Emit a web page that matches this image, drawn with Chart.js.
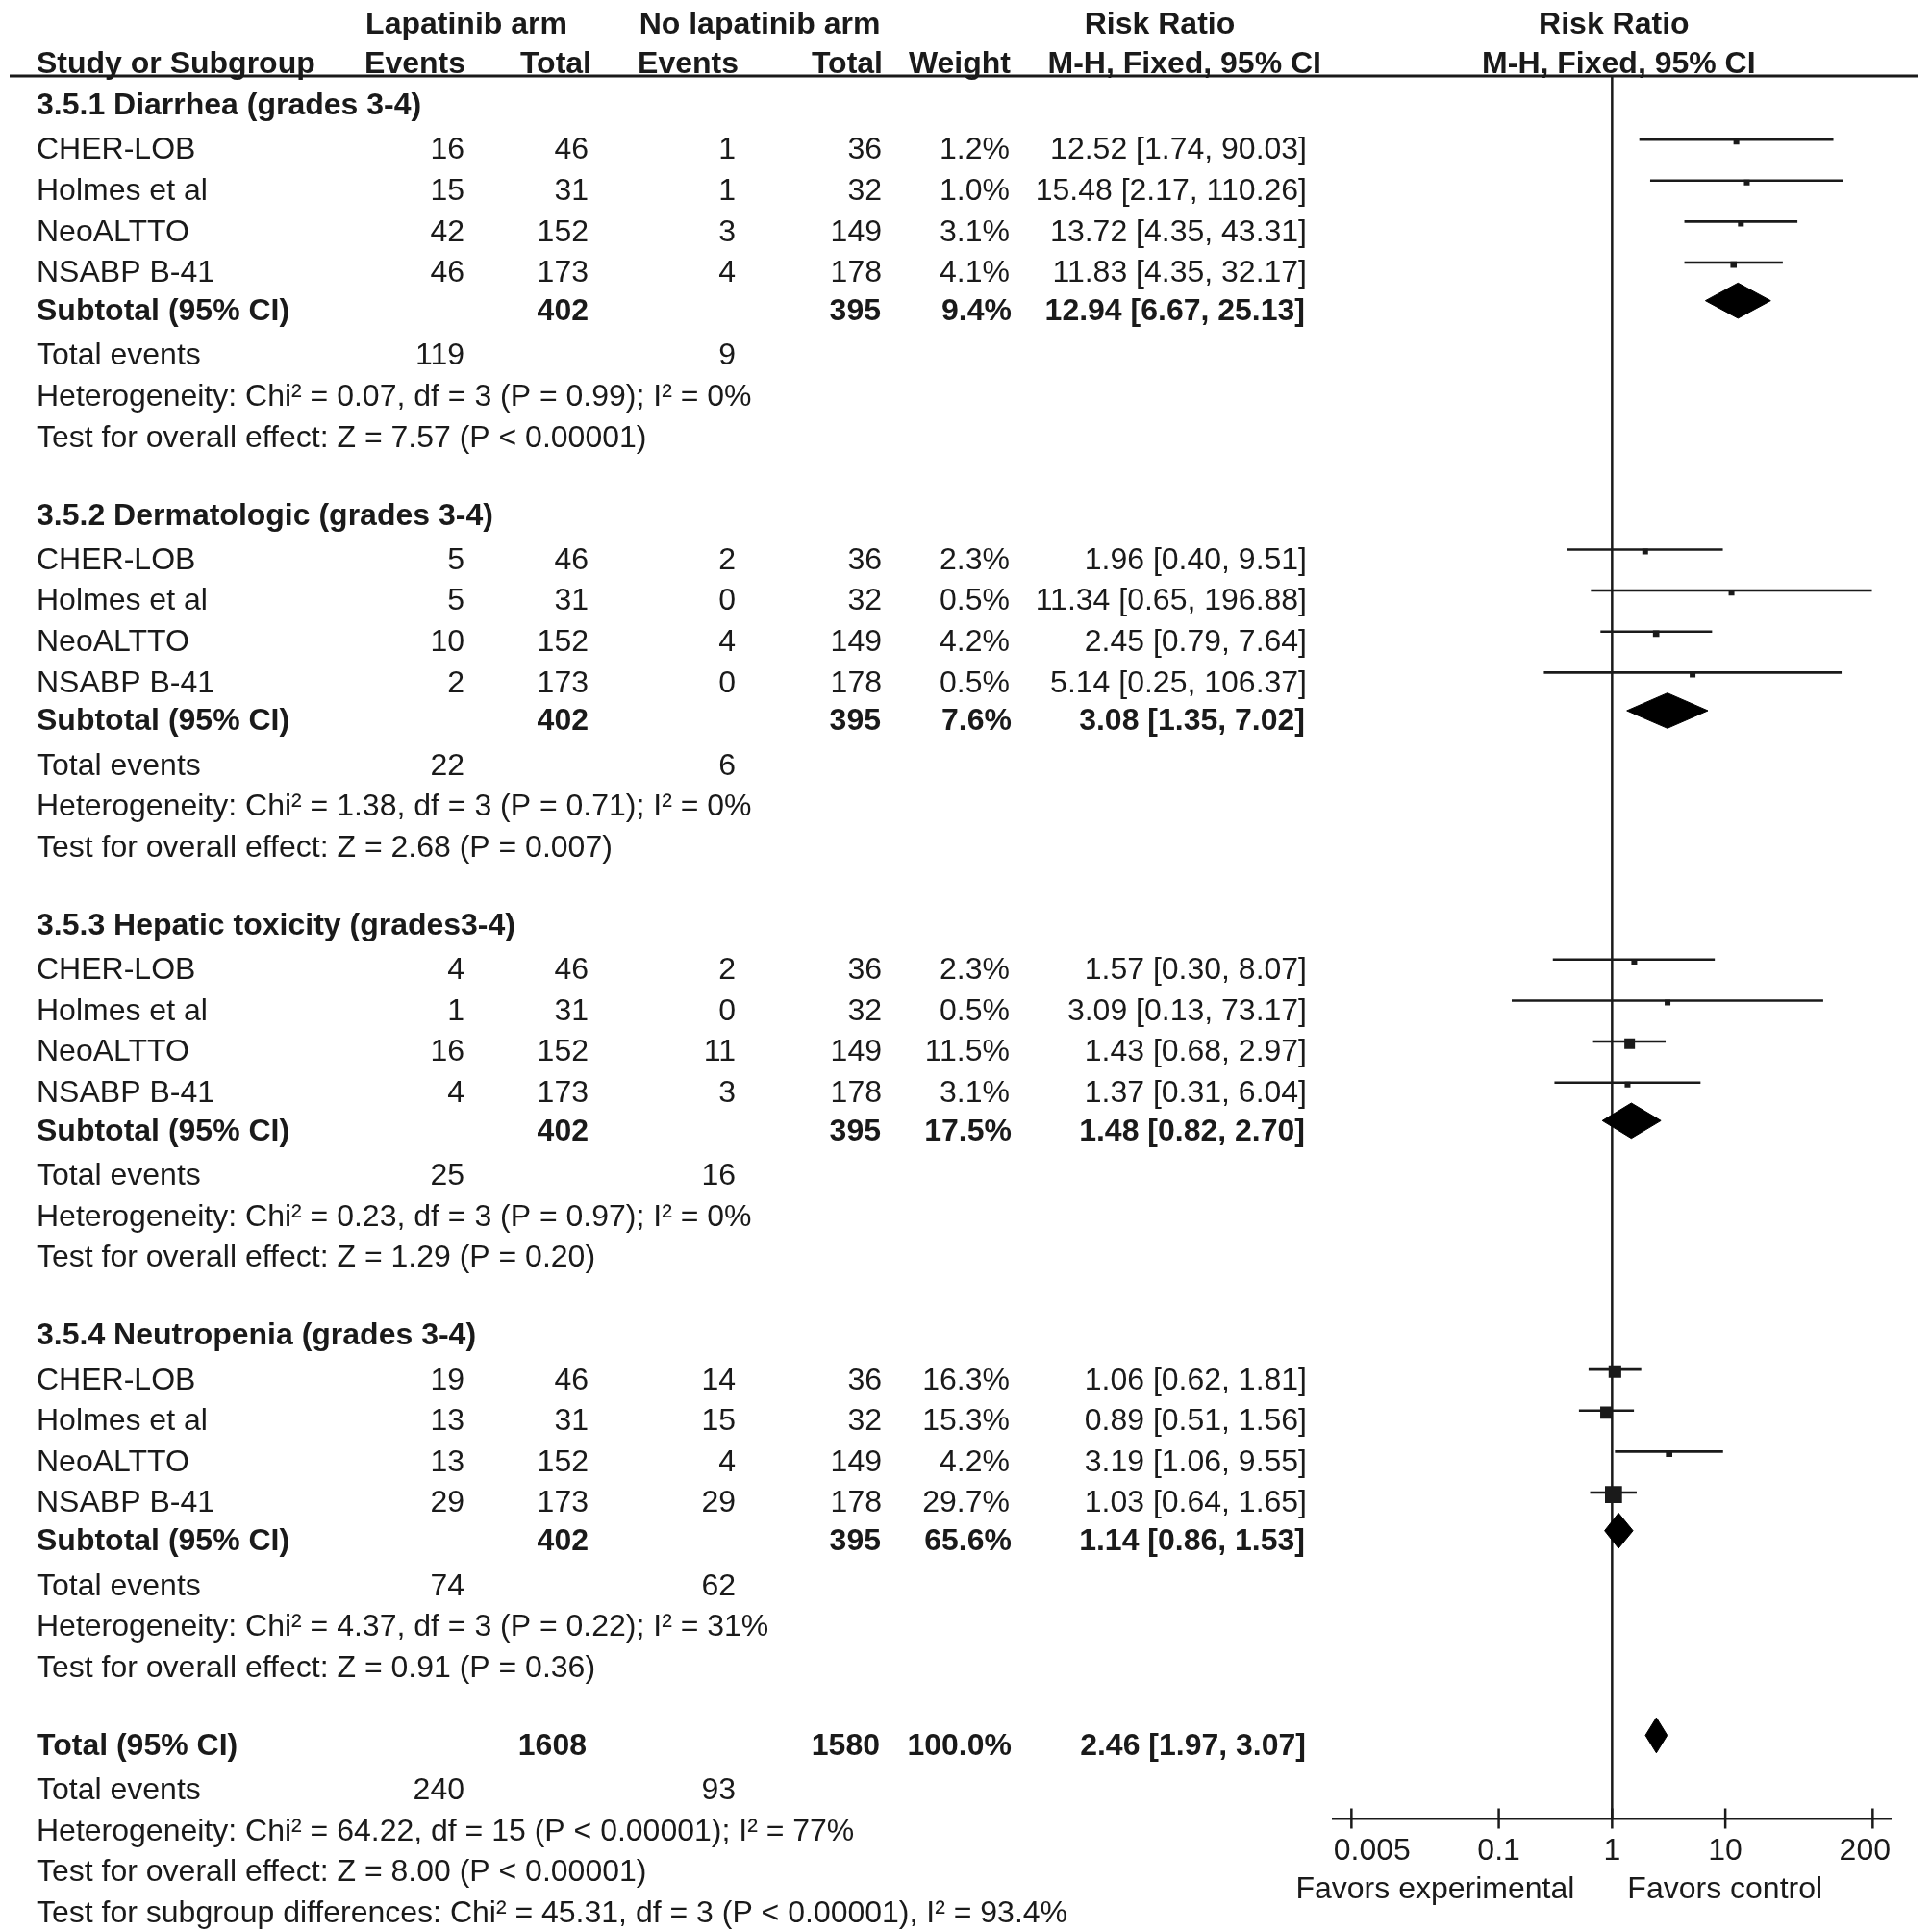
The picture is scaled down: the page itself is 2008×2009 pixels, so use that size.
<!DOCTYPE html>
<html>
<head>
<meta charset="utf-8">
<script src="https://cdn.jsdelivr.net/npm/chart.js@4.4.1/dist/chart.umd.min.js"></script>
<style>
  html, body { margin: 0; padding: 0; background: #ffffff; }
  #wrap { width: 2008px; height: 2009px; position: relative; }
</style>
</head>
<body>
<div id="wrap"><canvas id="c"></canvas></div>
<script>
// ---------------- DATA ----------------
const groups = [
  '3.5.1 Diarrhea (grades 3-4)',
  '3.5.2 Dermatologic (grades 3-4)',
  '3.5.3 Hepatic toxicity (grades3-4)',
  '3.5.4 Neutropenia (grades 3-4)'
];
const studies = ['CHER-LOB', 'Holmes et al', 'NeoALTTO', 'NSABP B-41'];
const expTotals = [46, 31, 152, 173];
const ctrlTotals = [36, 32, 149, 178];
const expEvents = [[16, 15, 42, 46], [5, 5, 10, 2], [4, 1, 16, 4], [19, 13, 13, 29]];
const ctrlEvents = [[1, 1, 3, 4], [2, 0, 4, 0], [2, 0, 11, 3], [14, 15, 4, 29]];
const weights = [[1.2, 1.0, 3.1, 4.1], [2.3, 0.5, 4.2, 0.5], [2.3, 0.5, 11.5, 3.1], [16.3, 15.3, 4.2, 29.7]];
const rrEst = [[12.52, 15.48, 13.72, 11.83], [1.96, 11.34, 2.45, 5.14], [1.57, 3.09, 1.43, 1.37], [1.06, 0.89, 3.19, 1.03]];
const rrLow = [[1.74, 2.17, 4.35, 4.35], [0.40, 0.65, 0.79, 0.25], [0.30, 0.13, 0.68, 0.31], [0.62, 0.51, 1.06, 0.64]];
const rrHigh = [[90.03, 110.26, 43.31, 32.17], [9.51, 196.88, 7.64, 106.37], [8.07, 73.17, 2.97, 6.04], [1.81, 1.56, 9.55, 1.65]];

const subExpTotal = [402, 402, 402, 402];
const subCtrlTotal = [395, 395, 395, 395];
const subWeight = [9.4, 7.6, 17.5, 65.6];
const subEst = [12.94, 3.08, 1.48, 1.14];
const subLow = [6.67, 1.35, 0.82, 0.86];
const subHigh = [25.13, 7.02, 2.70, 1.53];
const subExpEvents = [119, 22, 25, 74];
const subCtrlEvents = [9, 6, 16, 62];
const subHet = [
  'Heterogeneity: Chi\u00b2 = 0.07, df = 3 (P = 0.99); I\u00b2 = 0%',
  'Heterogeneity: Chi\u00b2 = 1.38, df = 3 (P = 0.71); I\u00b2 = 0%',
  'Heterogeneity: Chi\u00b2 = 0.23, df = 3 (P = 0.97); I\u00b2 = 0%',
  'Heterogeneity: Chi\u00b2 = 4.37, df = 3 (P = 0.22); I\u00b2 = 31%'
];
const subTest = [
  'Test for overall effect: Z = 7.57 (P < 0.00001)',
  'Test for overall effect: Z = 2.68 (P = 0.007)',
  'Test for overall effect: Z = 1.29 (P = 0.20)',
  'Test for overall effect: Z = 0.91 (P = 0.36)'
];

const totalExp = 1608;
const totalCtrl = 1580;
const totalWeight = 100.0;
const totalEst = 2.46;
const totalLow = 1.97;
const totalHigh = 3.07;
const totalExpEvents = 240;
const totalCtrlEvents = 93;
const totalHet = 'Heterogeneity: Chi\u00b2 = 64.22, df = 15 (P < 0.00001); I\u00b2 = 77%';
const totalTest = 'Test for overall effect: Z = 8.00 (P < 0.00001)';
const subgroupDiff = 'Test for subgroup differences: Chi\u00b2 = 45.31, df = 3 (P < 0.00001), I\u00b2 = 93.4%';

const tickValues = [0.005, 0.1, 1, 10, 200];
const tickLabels = ['0.005', '0.1', '1', '10', '200'];
const favorsLeft = 'Favors experimental';
const favorsRight = 'Favors control';

// ---------------- LAYOUT (rows in row units) ----------------
const INK = '#1a1a1a';
const FAMILY = '"Liberation Sans", Arial, Helvetica, sans-serif';
const FONT = '32px ' + FAMILY;
const Y_MAX = 42.5;
const MARK_OFF = -0.22;   // markers sit slightly above text middle
const TXT_BASE = 11;      // px from row middle to baseline

const rows = [];
let yy = 0.69;
groups.forEach((g, gi) => {
  rows.push({ y: yy, type: 'group', gi }); yy += 1.08;
  studies.forEach((s, si) => { rows.push({ y: yy, type: 'study', gi, si }); if (si < studies.length - 1) yy += 1; });
  yy += 0.93; rows.push({ y: yy, type: 'sub', gi });
  yy += 1.09; rows.push({ y: yy, type: 'events', gi });
  yy += 1.0; rows.push({ y: yy, type: 'het', gi });
  yy += 1.0; rows.push({ y: yy, type: 'test', gi });
  yy += 1.9;
});
rows.push({ y: yy, type: 'total' }); yy += 1.08;
rows.push({ y: yy, type: 'tevents' }); yy += 1.0;
rows.push({ y: yy, type: 'thet' }); yy += 1.0;
rows.push({ y: yy, type: 'ttest' }); yy += 1.0;
rows.push({ y: yy, type: 'tsub' });

// ---------------- DATASETS ----------------
const datasets = [];
// vertical line of no effect
datasets.push({
  type: 'line', data: [{ x: 1, y: 0 }, { x: 1, y: Y_MAX }],
  borderColor: INK, borderWidth: 2.5, pointRadius: 0, clip: false, order: 5
});
// study confidence intervals
const squares = [];
const squareSizes = [];
rows.filter(r => r.type === 'study').forEach(r => {
  const ym = r.y + MARK_OFF;
  datasets.push({
    type: 'line',
    data: [{ x: rrLow[r.gi][r.si], y: ym }, { x: rrHigh[r.gi][r.si], y: ym }],
    borderColor: INK, borderWidth: 2.6, pointRadius: 0, clip: false, order: 3
  });
  squares.push({ x: rrEst[r.gi][r.si], y: ym + 0.05 });
  squareSizes.push(Math.max(6, 3.25 * Math.sqrt(weights[r.gi][r.si])));
});
datasets.push({
  type: 'scatter', data: squares, pointStyle: 'rect',
  pointRadius: squareSizes.map(s => s / Math.SQRT2),
  backgroundColor: INK, borderWidth: 0, order: 2
});
// diamonds
const DH = 0.43;
function diamond(lo, est, hi, y) {
  return {
    type: 'line',
    data: [{ x: lo, y: y }, { x: est, y: y - DH }, { x: hi, y: y }, { x: est, y: y + DH }, { x: lo, y: y }],
    borderColor: '#000', borderWidth: 1, backgroundColor: '#000',
    fill: 'shape', pointRadius: 0, tension: 0, clip: false, order: 1
  };
}
rows.filter(r => r.type === 'sub').forEach(r => {
  datasets.push(diamond(subLow[r.gi], subEst[r.gi], subHigh[r.gi], r.y + MARK_OFF));
});
const totRow = rows.find(r => r.type === 'total');
datasets.push(diamond(totalLow, totalEst, totalHigh, totRow.y + MARK_OFF));
// full axis tick marks (above and below the axis line)
datasets.push({
  type: 'scatter', data: tickValues.map(v => ({ x: v, y: Y_MAX })),
  pointStyle: 'line', rotation: 90, pointRadius: 10.5, borderColor: INK, borderWidth: 2.5,
  clip: false, order: 0
});

// ---------------- TEXT PLUGIN ----------------
const COL = { label: 38, expEv: 483, expTot: 612, ctrlEv: 765, ctrlTot: 917, weight: 1050, rr: 1359 };
const fmtCI = (e, l, h) => e.toFixed(2) + ' [' + l.toFixed(2) + ', ' + h.toFixed(2) + ']';

const textPlugin = {
  id: 'forestText',
  afterDraw(chart) {
    const ctx = chart.ctx;
    const ys = chart.scales.y, xs = chart.scales.x;
    const by = v => ys.getPixelForValue(v) + TXT_BASE;
    const put = (t, x, y, align, bold) => {
      ctx.font = (bold ? 'bold ' : '') + FONT;
      ctx.textAlign = align;
      ctx.fillText(String(t), x, y);
    };
    ctx.save();
    ctx.fillStyle = INK;
    ctx.textBaseline = 'alphabetic';
    const px1 = xs.getPixelForValue(1);

    // header line
    ctx.strokeStyle = INK; ctx.lineWidth = 3;
    ctx.beginPath(); ctx.moveTo(10, ys.top); ctx.lineTo(1995, ys.top); ctx.stroke();

    // column headers
    const h1 = 35, h2 = 76;
    put('Lapatinib arm', 485, h1, 'center', true);
    put('No lapatinib arm', 790, h1, 'center', true);
    put('Risk Ratio', 1206, h1, 'center', true);
    put('Risk Ratio', px1 + 2, h1, 'center', true);
    put('Study or Subgroup', COL.label, h2, 'left', true);
    put('Events', 484, h2, 'right', true);
    put('Total', 615, h2, 'right', true);
    put('Events', 768, h2, 'right', true);
    put('Total', 918, h2, 'right', true);
    put('Weight', 1051, h2, 'right', true);
    put('M-H, Fixed, 95% CI', 1374, h2, 'right', true);
    put('M-H, Fixed, 95% CI', px1 + 7, h2, 'center', true);

    rows.forEach(r => {
      const y = by(r.y);
      switch (r.type) {
        case 'group': put(groups[r.gi], COL.label, y, 'left', true); break;
        case 'study': {
          const g = r.gi, s = r.si;
          put(studies[s], COL.label, y, 'left');
          put(expEvents[g][s], COL.expEv, y, 'right');
          put(expTotals[s], COL.expTot, y, 'right');
          put(ctrlEvents[g][s], COL.ctrlEv, y, 'right');
          put(ctrlTotals[s], COL.ctrlTot, y, 'right');
          put(weights[g][s].toFixed(1) + '%', COL.weight, y, 'right');
          put(fmtCI(rrEst[g][s], rrLow[g][s], rrHigh[g][s]), COL.rr, y, 'right');
          break;
        }
        case 'sub':
          put('Subtotal (95% CI)', COL.label, y, 'left', true);
          put(subExpTotal[r.gi], COL.expTot, y, 'right', true);
          put(subCtrlTotal[r.gi], COL.ctrlTot - 1, y, 'right', true);
          put(subWeight[r.gi].toFixed(1) + '%', COL.weight + 2, y, 'right', true);
          put(fmtCI(subEst[r.gi], subLow[r.gi], subHigh[r.gi]), COL.rr - 2, y, 'right', true);
          break;
        case 'events':
          put('Total events', COL.label, y, 'left');
          put(subExpEvents[r.gi], COL.expEv, y, 'right');
          put(subCtrlEvents[r.gi], COL.ctrlEv, y, 'right');
          break;
        case 'het': put(subHet[r.gi], COL.label, y, 'left'); break;
        case 'test': put(subTest[r.gi], COL.label, y, 'left'); break;
        case 'total':
          put('Total (95% CI)', COL.label, y, 'left', true);
          put(totalExp, COL.expTot - 2, y, 'right', true);
          put(totalCtrl, COL.ctrlTot - 2, y, 'right', true);
          put(totalWeight.toFixed(1) + '%', COL.weight + 2, y, 'right', true);
          put(fmtCI(totalEst, totalLow, totalHigh), COL.rr - 1, y, 'right', true);
          break;
        case 'tevents':
          put('Total events', COL.label, y, 'left');
          put(totalExpEvents, COL.expEv, y, 'right');
          put(totalCtrlEvents, COL.ctrlEv, y, 'right');
          break;
        case 'thet': put(totalHet, COL.label, y, 'left'); break;
        case 'ttest': put(totalTest, COL.label, y, 'left'); break;
        case 'tsub': put(subgroupDiff, COL.label, y, 'left'); break;
      }
    });

    // axis tick labels, kept inside the axis extent
    ctx.font = FONT;
    const ty = xs.top + 43;
    tickValues.forEach((v, i) => {
      const lbl = tickLabels[i];
      const w = ctx.measureText(lbl).width;
      let cx = xs.getPixelForValue(v);
      cx = Math.max(xs.left + w / 2, Math.min(xs.right - w / 2, cx));
      put(lbl, cx, ty, 'center');
    });

    // favours labels under the axis
    put(favorsLeft, px1 - 39, 1974, 'right');
    put(favorsRight, px1 + 16, 1974, 'left');
    ctx.restore();
  }
};

// ---------------- CHART ----------------
const AXIS_H = 60;
new Chart(document.getElementById('c'), {
  type: 'scatter',
  data: { datasets },
  options: {
    responsive: true,
    maintainAspectRatio: false,
    animation: false,
    events: [],
    layout: { padding: { left: 1386.7, right: 42, top: 79, bottom: 2009 - 1891 - AXIS_H } },
    plugins: { legend: { display: false }, tooltip: { enabled: false } },
    scales: {
      x: {
        type: 'logarithmic',
        position: 'bottom',
        min: 1 / 288,
        max: 288,
        bounds: 'data',
        grid: { display: false, drawTicks: false },
        border: { display: true, color: INK, width: 2.5 },
        afterBuildTicks: (scale) => { scale.ticks = tickValues.map(v => ({ value: v })); },
        afterFit: (scale) => { scale.height = AXIS_H; },
        ticks: { display: false, autoSkip: false, maxRotation: 0, minRotation: 0 }
      },
      y: {
        type: 'linear', display: false, reverse: true, min: 0, max: Y_MAX
      }
    }
  },
  plugins: [textPlugin]
});
</script>
</body>
</html>
